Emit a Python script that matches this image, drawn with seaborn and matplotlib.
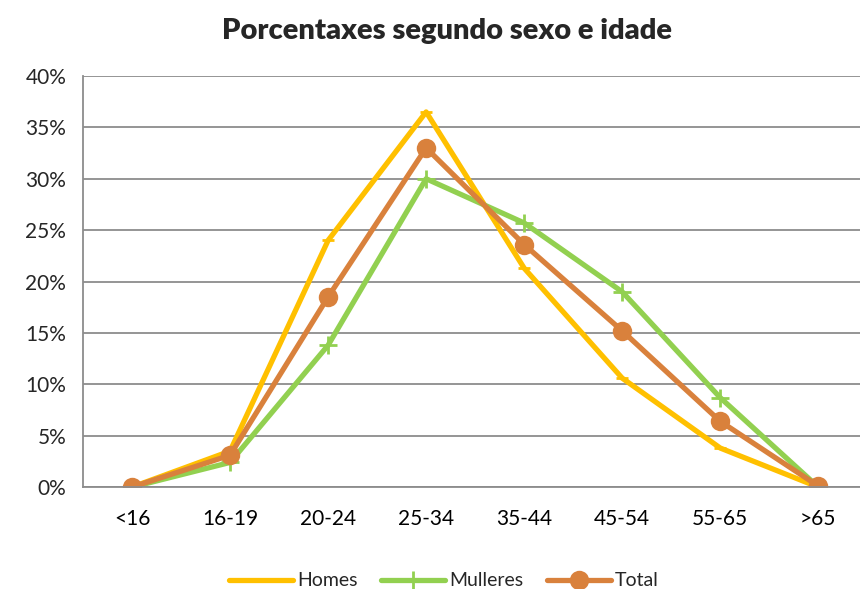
import pandas as pd
import seaborn as sns
import matplotlib.pyplot as plt
from matplotlib.ticker import PercentFormatter

idades = ["<16", "16-19", "20-24", "25-34", "35-44", "45-54", "55-65", ">65"]
homes = [0.0, 3.5, 24.0, 36.5, 21.3, 10.6, 3.8, 0.0]
mulleres = [0.0, 2.4, 13.8, 30.0, 25.7, 19.0, 8.7, 0.0]
total = [0.0, 3.1, 18.5, 33.0, 23.6, 15.2, 6.4, 0.1]

series = {"Homes": homes, "Mulleres": mulleres, "Total": total}
cores = {"Homes": "#FFC000", "Mulleres": "#92D050", "Total": "#D9813C"}
marcadores = {"Homes": "_", "Mulleres": "+", "Total": "o"}
tamanos = {"Homes": 9, "Mulleres": 13, "Total": 14}

df = pd.DataFrame([
    {"idade": i, "serie": nome, "valor": v}
    for nome, vals in series.items()
    for i, v in zip(idades, vals)
])

sns.set_style("white")
plt.rcParams["font.family"] = ["Lato", "DejaVu Sans"]

fig = plt.figure(figsize=(8.6, 5.89), dpi=100)
ax = fig.add_axes([0.0965, 0.173, 0.912, 0.698])

for nome in series:
    sub = df[df["serie"] == nome]
    sns.lineplot(data=sub, x="idade", y="valor", ax=ax, color=cores[nome],
                 linewidth=3.8, marker=marcadores[nome], markersize=tamanos[nome],
                 markeredgewidth=2 if nome != "Total" else 0,
                 markeredgecolor=cores[nome], label=nome, sort=False)

ax.set_xlim(-0.5, len(idades) - 0.5)
ax.set_ylim(0, 40)
ax.set_yticks(range(0, 41, 5))
ax.yaxis.set_major_formatter(PercentFormatter(decimals=0))
ax.set_xticks(range(len(idades)))
ax.set_xticklabels(idades)
ax.set_xticks([x - 0.5 for x in range(len(idades) + 1)], minor=True)
ax.tick_params(axis="x", which="major", length=0, pad=16, labelsize=15, colors="black")
ax.tick_params(axis="x", which="minor", length=6, width=1.3, color="#8C8C8C")
ax.tick_params(axis="y", length=6, width=1.3, color="#8C8C8C", labelsize=15, pad=6)
ax.grid(axis="y", color="#8C8C8C", linewidth=1.3)
ax.set_axisbelow(True)
for s in ["top", "right"]:
    ax.spines[s].set_visible(False)
for s in ["left", "bottom"]:
    ax.spines[s].set_color("#8C8C8C")
    ax.spines[s].set_linewidth(1.3)
ax.set_xlabel("")
ax.set_ylabel("")

fig.text(0.52, 0.948, "Porcentaxes segundo sexo e idade", fontsize=21,
         fontweight="heavy", ha="center", va="center")
ax.legend(loc="center", bbox_to_anchor=(0.46, -0.228), ncol=3, frameon=False,
          fontsize=14, handlelength=3.3, handletextpad=0.2, columnspacing=1.2)

fig.savefig("out.png", dpi=100)
